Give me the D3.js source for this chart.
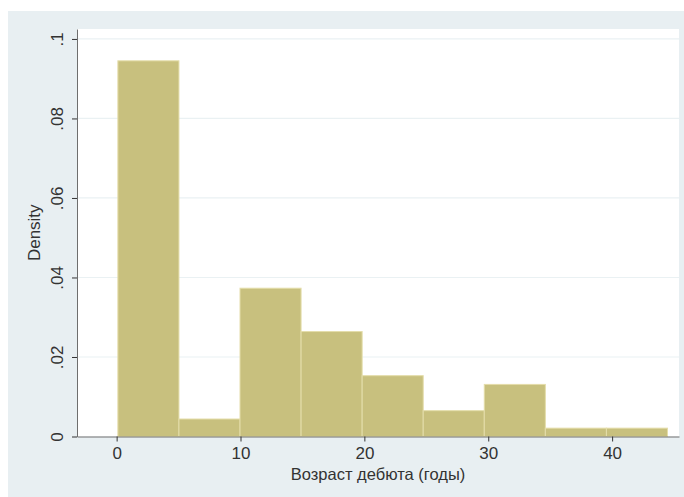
<!DOCTYPE html>
<html>
<head>
<meta charset="utf-8">
<style>
  body { margin: 0; background: #fff; }
  text { font-family: "Liberation Sans", Arial, sans-serif; fill: #333; }
</style>
</head>
<body>
<svg width="684" height="497"></svg>
<script src="https://d3js.org/d3.v7.min.js"></script>
<script>
// histogram bins (age at onset, years) and densities
var binEdges = [0.1, 5.03, 9.96, 14.89, 19.82, 24.75, 29.68, 34.61, 39.54, 44.47];
var densities = [0.0945, 0.0044, 0.0373, 0.0264, 0.0153, 0.0065, 0.0131, 0.0021, 0.0021];
var xTicks = [0, 10, 20, 30, 40];
var yTicks = [0, 0.02, 0.04, 0.06, 0.08, 0.1];
var yTickLabels = ["0", ".02", ".04", ".06", ".08", ".1"];
var xTitle = "Возраст дебюта (годы)";
var yTitle = "Density";

var svg = d3.select("svg");
var plotL = 77, plotR = 679, plotT = 29, plotB = 436.5;

var x = d3.scaleLinear().domain([-3.2, 45.4]).range([plotL, plotR]);
var y = d3.scaleLinear().domain([0, 0.1025]).range([plotB, plotT]);

// outer graph region
svg.append("rect").attr("x", 8).attr("y", 11).attr("width", 676).attr("height", 486)
   .attr("fill", "#e8eff2");
// plot region
svg.append("rect").attr("x", plotL).attr("y", plotT).attr("width", plotR - plotL).attr("height", plotB - plotT)
   .attr("fill", "#ffffff");

// gridlines
svg.append("g").selectAll("line").data(yTicks.slice(1)).enter().append("line")
   .attr("x1", plotL).attr("x2", plotR)
   .attr("y1", function(d){ return y(d); }).attr("y2", function(d){ return y(d); })
   .style("stroke", "#eaf1f3").style("stroke-width", 1.2);

// bars
var bins = densities.map(function(d, i){ return {x0: binEdges[i], x1: binEdges[i+1], v: d}; });
svg.append("g").selectAll("rect").data(bins).enter().append("rect")
   .attr("x", function(d){ return x(d.x0); })
   .attr("width", function(d){ return x(d.x1) - x(d.x0); })
   .attr("y", function(d){ return y(d.v); })
   .attr("height", function(d){ return y(0) - y(d.v); })
   .attr("fill", "#c8c07e")
   .attr("stroke", "#e4ddaa")
   .attr("stroke-width", 1);

// x axis
var xAxis = svg.append("g").attr("transform", "translate(0," + plotB + ")")
   .call(d3.axisBottom(x).tickValues(xTicks).tickSize(5).tickPadding(5).tickSizeOuter(0));
xAxis.select(".domain").attr("stroke", "#6e6e6e");
xAxis.selectAll(".tick line").attr("stroke", "#333");
xAxis.selectAll("text").style("font-size", "17px").attr("fill", "#333")
   .style("font-family", "Liberation Sans, Arial, sans-serif");

// y axis
var yAxis = svg.append("g").attr("transform", "translate(" + plotL + ",0)")
   .call(d3.axisLeft(y).tickValues(yTicks).tickSize(5).tickSizeOuter(0)
   .tickFormat(function(d, i){ return yTickLabels[i]; }));
yAxis.select(".domain").attr("stroke", "#6e6e6e");
yAxis.selectAll(".tick line").attr("stroke", "#333");
yAxis.selectAll("text")
   .attr("x", null).attr("dy", null)
   .attr("transform", "translate(-14,0) rotate(-90)")
   .style("text-anchor", "middle")
   .style("font-size", "17px").attr("fill", "#333")
   .style("font-family", "Liberation Sans, Arial, sans-serif");

// titles
svg.append("text").attr("x", (plotL + plotR) / 2).attr("y", 480)
   .style("text-anchor", "middle").style("font-size", "16.5px").text(xTitle);
svg.append("text").attr("transform", "translate(40," + ((plotT + plotB) / 2) + ") rotate(-90)")
   .style("text-anchor", "middle").style("font-size", "17px").text(yTitle);
</script>
</body>
</html>
